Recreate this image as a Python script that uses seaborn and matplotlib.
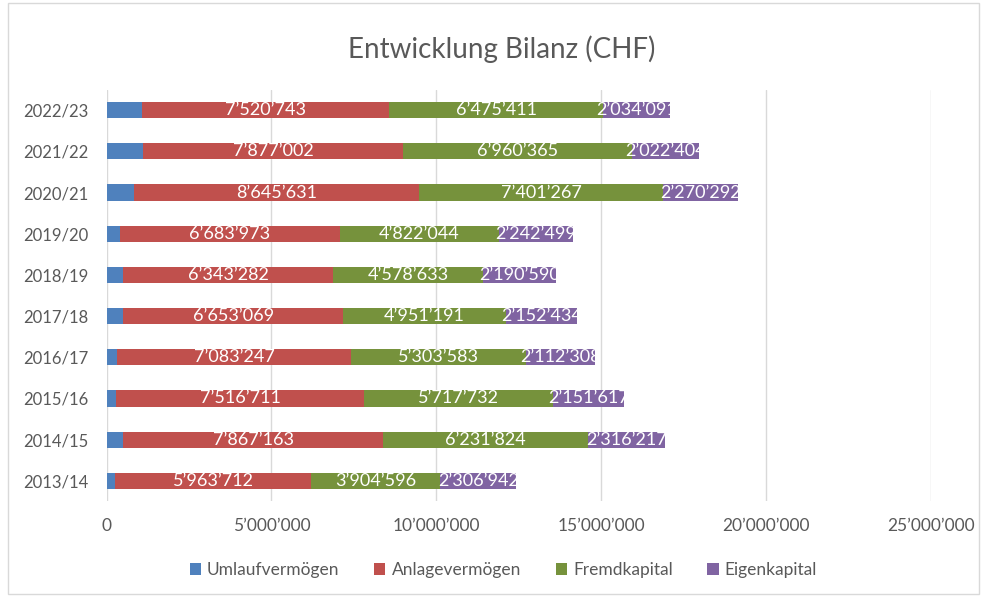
import numpy as np
import pandas as pd
import matplotlib
matplotlib.use("Agg")
import matplotlib.pyplot as plt
from matplotlib.patches import Patch, Rectangle
from matplotlib.ticker import FuncFormatter
import seaborn as sns

# Daten (CHF)
jahre = ['2013/14', '2014/15', '2015/16', '2016/17', '2017/18',
         '2018/19', '2019/20', '2020/21', '2021/22', '2022/23']
umlauf = [250000, 510000, 300000, 330000, 510000, 510000, 400000, 840000, 1110000, 1060000]
anlage = [5963712, 7867163, 7516711, 7083247, 6653069, 6343282, 6683973, 8645631, 7877002, 7520743]
fremd = [3904596, 6231824, 5717732, 5303583, 4951191, 4578633, 4822044, 7401267, 6960365, 6475411]
eigen = [2306942, 2316217, 2151617, 2112308, 2152434, 2190590, 2242499, 2270292, 2022404, 2034091]

serien = ['Umlaufvermögen', 'Anlagevermögen', 'Fremdkapital', 'Eigenkapital']
farben = ['#4F81BD', '#C0504D', '#76923C', '#8064A2']

df = pd.DataFrame({'Jahr': jahre, 'Umlaufvermögen': umlauf, 'Anlagevermögen': anlage,
                   'Fremdkapital': fremd, 'Eigenkapital': eigen})
reihenfolge = jahre[::-1]

def fmt(v):
    return f"{int(v):,}".replace(",", "\u2019")

sns.set_style("white")
plt.rcParams['font.family'] = ['Lato', 'DejaVu Sans']

fig, ax = plt.subplots(figsize=(9.87, 5.97), dpi=100)
fig.subplots_adjust(left=0.108, right=0.943, top=0.85, bottom=0.16)

# gestapelt: kumulierte Summen von hinten nach vorne zeichnen
kum = df[serien].cumsum(axis=1)
rects = {}
for s, c in reversed(list(zip(serien, farben))):
    sns.barplot(data=kum, x=kum[s], y=df['Jahr'], order=reihenfolge, color=c,
                saturation=1, width=0.39, linewidth=0, ax=ax)
    rects[s] = ax.containers[-1]

# Datenbeschriftungen (ohne Umlaufvermögen), rechts am Balkenende abgeschnitten
for i, s in enumerate(serien):
    if s == 'Umlaufvermögen':
        continue
    vorher = serien[i - 1]
    for bar, j in zip(rects[s], reihenfolge):
        row = df.index[df['Jahr'] == j][0]
        start = kum.loc[row, vorher]
        wert = df.loc[row, s]
        yc = bar.get_y() + bar.get_height() / 2
        t = ax.text(start + wert / 2, yc, fmt(wert), ha='center', va='center',
                    color='white', fontsize=13)
        t.set_clip_path(bar)

ax.set_xlim(0, 25000000)
ax.set_xticks(np.arange(0, 25000001, 5000000))
ax.xaxis.set_major_formatter(FuncFormatter(lambda v, p: fmt(v)))
ax.grid(axis='x', color='#D9D9D9', linewidth=1)
ax.set_axisbelow(True)
for sp in ax.spines.values():
    sp.set_visible(False)
ax.tick_params(axis='both', length=0, colors='#595959', labelsize=12.5)
ax.tick_params(axis='y', labelsize=12, pad=13)
ax.tick_params(axis='x', pad=12)
ax.set_xlabel('')
ax.set_ylabel('')

fig.suptitle('Entwicklung Bilanz (CHF)', x=0.508, y=0.94, fontsize=20, color='#595959')

handles = [Patch(facecolor=c, edgecolor='none') for c in farben]
leg = fig.legend(handles, serien, loc='center', bbox_to_anchor=(0.51, 0.045), ncol=4,
                 frameon=False, handlelength=0.65, handleheight=0.65, handletextpad=0.35,
                 columnspacing=2.0, fontsize=12.5)
for t in leg.get_texts():
    t.set_color('#595959')

fig.patches.append(Rectangle((0.008, 0.005), 0.984, 0.99, transform=fig.transFigure,
                             fill=False, edgecolor='#D9D9D9', linewidth=1))

plt.savefig('out.png', dpi=100)
